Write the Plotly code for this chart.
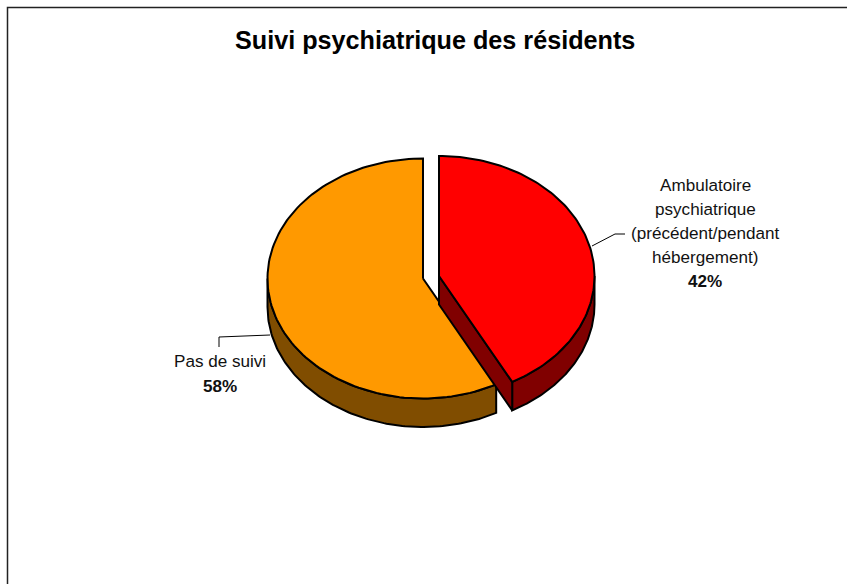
import numpy as np
import plotly.graph_objects as go

title = "Suivi psychiatrique des résidents"
categories = ["Ambulatoire psychiatrique (précédent/pendant hébergement)", "Pas de suivi"]
values = [42.2, 57.8]
percent_labels = ["42%", "58%"]
label_lines = [["Ambulatoire", "psychiatrique", "(précédent/pendant", "hébergement)"], ["Pas de suivi"]]
top_colors = ["#FF0000", "#FF9900"]
side_colors = ["#800000", "#804D00"]

W, H = 847, 584
RX, RY, DEPTH = 155.5, 120, 28.5
RED_C = (439, 276)
ORANGE_C = (423, 278.5)
FONT = "Liberation Sans"
LABEL_SIZE = 17.1
frac = values[0] / sum(values)
split = 2 * np.pi * frac


def rim(c, a, b, dy=0.0, n=120):
    t = np.linspace(a, b, n)
    return c[0] + RX * np.sin(t), c[1] - RY * np.cos(t) + dy


def poly(x, y, color, name):
    return go.Scatter(x=list(x), y=list(y), mode="lines", fill="toself", fillcolor=color,
                      line=dict(color="black", width=2), hoverinfo="text", text=name,
                      showlegend=False)


def side(c, a, b, color, name):
    x1, y1 = rim(c, a, b)
    x2, y2 = rim(c, b, a, DEPTH)
    return poly(np.r_[x1, x2, x1[0]], np.r_[y1, y2, y1[0]], color, name)


def wedge(c, a, b, color, name):
    x, y = rim(c, a, b)
    return poly(np.r_[c[0], x, c[0]], np.r_[c[1], y, c[1]], color, name)


fig = go.Figure()
# Orange slice: rim wall, then top
fig.add_trace(side(ORANGE_C, split, 1.5 * np.pi, side_colors[1], categories[1]))
fig.add_trace(wedge(ORANGE_C, split, 2 * np.pi, top_colors[1], categories[1]))
# Red slice: rim wall, cut face, then top
fig.add_trace(side(RED_C, np.pi / 2, split, side_colors[0], categories[0]))
ex, ey = rim(RED_C, split, split, n=1)
fig.add_trace(poly([RED_C[0], ex[0], ex[0], RED_C[0], RED_C[0]],
                   [RED_C[1], ey[0], ey[0] + DEPTH, RED_C[1] + DEPTH, RED_C[1]],
                   side_colors[0], categories[0]))
fig.add_trace(wedge(RED_C, 0, split, top_colors[0], categories[0]))

# Leader lines
for lx, ly in [([592, 615, 625], [246, 234, 234]), ([270, 219, 219], [335, 337, 347])]:
    fig.add_trace(go.Scatter(x=lx, y=ly, mode="lines", line=dict(color="black", width=1),
                             hoverinfo="skip", showlegend=False))

label_font = dict(size=LABEL_SIZE, color="#111111", family=FONT)
anns = [dict(x=435, y=40, text=f"<b>{title}</b>", font=dict(size=25.2, color="black", family=FONT))]
for i, yy in enumerate([185.5, 209.5, 233.5, 257]):
    anns.append(dict(x=705, y=yy, text=label_lines[0][i], font=label_font))
anns.append(dict(x=705, y=281, text=f"<b>{percent_labels[0]}</b>", font=label_font))
anns.append(dict(x=219.5, y=361, text=label_lines[1][0], font=label_font))
anns.append(dict(x=219.5, y=386, text=f"<b>{percent_labels[1]}</b>", font=label_font))
for a in anns:
    a.update(xref="x", yref="y", showarrow=False, xanchor="center", yanchor="middle")

fig.update_layout(
    width=W, height=H, margin=dict(l=0, r=0, t=0, b=0), autosize=False,
    paper_bgcolor="white", plot_bgcolor="white", annotations=anns,
    xaxis=dict(range=[0, W], visible=False, fixedrange=True),
    yaxis=dict(range=[H, 0], visible=False, fixedrange=True),
    shapes=[dict(type="path", path=f"M 7.5 {H+5} L 7.5 7.5 L {W+5} 7.5", xref="x", yref="y",
                 line=dict(color="#222222", width=1.5), layer="below")],
)
fig.write_html("out.html", config=dict(displayModeBar=False),
               post_script="document.body.style.margin='0';document.documentElement.style.overflow='hidden';")
